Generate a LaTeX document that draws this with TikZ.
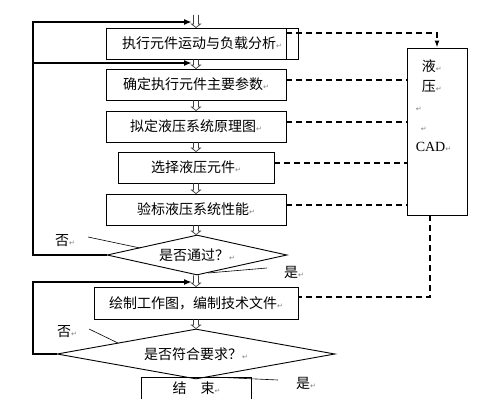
\documentclass[tikz,border=0pt]{standalone}
\usepackage{fontspec}
\setmainfont{Liberation Serif}
\newfontfamily\cjkfont{Noto Sans CJK SC}
\newfontfamily\symfont{DejaVu Sans}
\usetikzlibrary{arrows.meta,shapes.geometric,calc}
\newcommand{\pmark}{{\symfont\fontsize{7}{7}\selectfont\textcolor{gray}{↵}}}

\begin{document}
\begin{tikzpicture}[x=1pt,y=-1pt,
  font=\cjkfont\fontsize{14}{18}\selectfont,
  task/.style={draw,line width=0.9pt,minimum height=31pt,inner sep=0pt},
  test/.style={draw,diamond,line width=0.9pt,inner sep=0pt},
  hollow/.style={line width=0.7pt,draw=black!75,to path={
    ($(\tikztostart)+(-2.5,0)$) -- ($(\tikztotarget)+(-2.5,-3.5)$) -- ($(\tikztotarget)+(-4.5,-3.5)$)
    -- (\tikztotarget) -- ($(\tikztotarget)+(4.5,-3.5)$) -- ($(\tikztotarget)+(2.5,-3.5)$)
    -- ($(\tikztostart)+(2.5,0)$)}},
  loopline/.style={line width=1.6pt,-{Latex[length=8pt,width=6pt]}},
  dashline/.style={line width=1.4pt,dash pattern=on 6pt off 4pt},
  leader/.style={line width=0.6pt},
  tag/.style={inner sep=0pt}]
  \useasboundingbox (0,0) rectangle (500,412);

  % Steps
  \node[task,minimum width=192pt] (task1) at (202,43.5) {执行元件运动与负载分析\pmark};
  \node[task,minimum width=180pt] (task2) at (196,84.5) {确定执行元件主要参数\pmark};
  \node[task,minimum width=180pt] (task3) at (196,126.5) {拟定液压系统原理图\pmark};
  \node[task,minimum width=156pt] (task4) at (196,167.5) {选择液压元件\pmark};
  \node[task,minimum width=180pt] (task5) at (196,209.5) {验标液压系统性能\pmark};
  \node[test,aspect=4.5,minimum width=180pt,minimum height=40pt] (pass) at (197,255) {是否通过？\pmark};
  \node[task,minimum width=204pt,minimum height=32pt] (design) at (196,303) {绘制工作图，编制技术文件\pmark};
  \node[test,aspect=5.5,minimum width=278pt,minimum height=50pt] (meet) at (196,354) {是否符合要求？\pmark};
  \node[minimum width=109pt,minimum height=21pt,inner sep=0pt] (finish) at (196.5,388.5) {结\quad 束\pmark};
  \draw[line width=0.9pt] ([xshift=-12pt]task1.north east) -- ([xshift=-12pt]task1.south east);
  \draw[line width=0.9pt] (finish.south west) |- (finish.north east) -- (finish.south east);

  % CAD box
  \node[draw,line width=0.9pt,minimum width=60pt,minimum height=167pt] (cad) at (437,131.5) {};
  \node[font=\cjkfont\fontsize{14}{20}\selectfont,align=left,anchor=north west,inner sep=0pt]
    (cadtext) at ([xshift=9pt,yshift=-12pt]cad.north west)
    {\hspace{6pt}液\pmark\\\hspace{6pt}压\pmark\\\pmark\\\hspace{5pt}\pmark\\{\rmfamily CAD}\pmark};

  % Hollow arrows
  \coordinate (start) at (196,15);
  \draw[hollow] (start) to (task1.north -| start);
  \foreach \a/\b in {task1/task2,task2/task3,task3/task4,task4/task5,task5/pass,pass/design,design/meet}
    \draw[hollow] (\a.south -| start) to (\b.north -| start);

  % Feedback loops
  \coordinate (in1) at (192,22);
  \coordinate (in2) at (192,63);
  \coordinate (in3) at (192,282);
  \coordinate (back) at (33,22);
  \draw[loopline] (pass.west) -| (back) -- (in1);
  \draw[loopline] (back |- in2) -- (in2);
  \draw[loopline] (meet.west) -| (back |- in3) -- (in3);

  % Links to CAD
  \draw[dashline,-{Latex[length=7pt,width=5pt]}] ([xshift=-12pt,yshift=10.5pt]task1.east) -| (cad.north);
  \foreach \t in {task2,task3,task4,task5}
    \draw[dashline] ([yshift=4.5pt]\t.east) -- ([yshift=4.5pt]\t.east -| cad.west);
  \draw[dashline] ([xshift=-7pt]cad.south) |- ([yshift=6pt]design.east);

  % Answers
  \node[tag] (no1) at (65,241) {否\pmark};
  \node[tag] (yes1) at (294,272) {是\pmark};
  \node[tag] (no2) at (67,332) {否\pmark};
  \node[tag] (yes2) at (306,383) {是\pmark};
  \coordinate (n1a) at (88,237);
  \coordinate (n1b) at (140,248);
  \coordinate (y1a) at (267,268);
  \coordinate (y1b) at (208,273);
  \coordinate (n2a) at (89,329);
  \coordinate (n2b) at (118,343);
  \coordinate (y2a) at (278,380);
  \coordinate (y2b) at (213,377);
  \draw[leader] (n1a) -- (n1b);
  \draw[leader] (y1a) -- (y1b);
  \draw[leader] (n2a) -- (n2b);
  \draw[leader] (y2a) -- (y2b);
\end{tikzpicture}
\end{document}
